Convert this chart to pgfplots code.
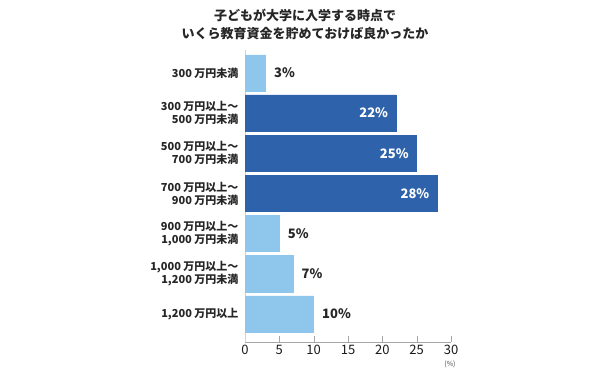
\documentclass[border=0pt]{standalone}
\usepackage{fontspec}
\setmainfont{Noto Sans CJK JP}
\usepackage{pgfplots}
\pgfplotsset{compat=1.18}
\definecolor{darkbar}{HTML}{2E62AA}
\definecolor{lightbar}{HTML}{8FC7EC}
\begin{document}
\begin{tikzpicture}[x=1pt,y=1pt]
\useasboundingbox (0,0) rectangle (610,380);
\node[align=center,font=\fontsize{13}{18}\selectfont\bfseries, text=black!85] at (305,356) {子どもが大学に入学する時点で\\いくら教育資金を貯めておけば良かったか};
\begin{axis}[at={(245pt,38pt)}, anchor=south west, scale only axis, width=206pt, height=292pt,
  xbar, bar width=0.9, bar shift=0pt,
  xmin=0, xmax=30, ymin=0.3, ymax=7.57,
  xtick={0,5,...,30}, ytick={1,...,7},
  yticklabels={1{,}200 万円以上, {1{,}000 万円以上～\\1{,}200 万円未満}, {900 万円以上～\\1{,}000 万円未満}, {700 万円以上～\\900 万円未満}, {500 万円以上～\\700 万円未満}, {300 万円以上～\\500 万円未満}, 300 万円未満},
  axis x line*=bottom, axis y line*=left,
  x axis line style={gray!70, -}, y axis line style={gray!35, -},
  tick align=inside, major tick length=6pt,
  xtick style={gray!70}, ytick style={draw=none},
  /pgf/number format/assume math mode=true,
  xticklabel style={font=\fontsize{13}{15}\selectfont, text=black!90},
  yticklabel style={font=\fontsize{11}{13}\selectfont\bfseries, align=right, text=black!85, xshift=-3pt},
  nodes near coords={\pgfmathprintnumber{\pgfplotspointmeta}\%},
  point meta=x,
]
\addplot[fill=lightbar, draw=lightbar, nodes near coords style={font=\fontsize{13}{15}\selectfont\bfseries, text=black!85, anchor=west, xshift=5pt}]
  coordinates {(10,1) (7,2) (5,3) (3,7)};
\addplot[fill=darkbar, draw=darkbar, nodes near coords style={font=\fontsize{13}{15}\selectfont\bfseries, text=white, anchor=east, xshift=-4.5pt}]
  coordinates {(28,4) (25,5) (22,6)};
\end{axis}
\node[font=\fontsize{7}{8}\selectfont, text=black!70] at (450,16) {(\%)};
\end{tikzpicture}
\end{document}
